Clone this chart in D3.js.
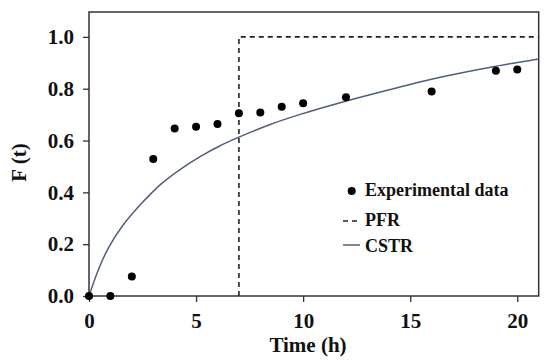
<!DOCTYPE html>
<html><head><meta charset="utf-8">
<script src="https://cdn.jsdelivr.net/npm/d3@7"></script>
<style>
html,body{margin:0;padding:0;background:#fff;}
text{font-family:"Liberation Serif","Times New Roman",serif;font-weight:bold;fill:#111;}
</style></head>
<body><svg id="c" width="550" height="364"></svg>
<script>
// Experimental data
const expTime = [0, 1, 2, 3, 4, 5, 6, 7, 8, 9, 10, 12, 16, 19, 20];
const expF    = [0, 0, 0.075, 0.529, 0.646, 0.653, 0.664, 0.705, 0.708, 0.73, 0.744, 0.767, 0.789, 0.869, 0.874];
// PFR (ideal step at t = 7 h)
const pfrTime = [7, 7, 21];
const pfrF    = [0, 1, 1];
// CSTR model curve
const cstrTime = [0, 0.47, 0.935, 1.56, 2.34, 3.32, 4.25, 5.19, 6.12, 7.03, 8.46, 9.79, 11.73, 14.07, 16.4, 18.75, 21];
const cstrF    = [0, 0.108, 0.19, 0.27, 0.347, 0.429, 0.488, 0.538, 0.58, 0.614, 0.662, 0.699, 0.746, 0.797, 0.844, 0.883, 0.915];
// Ticks
const xTicks = [0, 5, 10, 15, 20];
const yTicks = [0, 0.2, 0.4, 0.6, 0.8, 1.0];
const legendLabels = ["Experimental data", "PFR", "CSTR"];

const svg = d3.select("#c");
const L = 89, T = 12, R = 538.7, B = 296;
const x = d3.scaleLinear().domain([0, 21]).range([L, R]);
const y = d3.scaleLinear().domain([0, 1.096]).range([B, T]);

// frame
svg.append("rect").attr("x", L).attr("y", T).attr("width", R - L).attr("height", B - T)
  .attr("fill", "none").attr("stroke", "#333").attr("stroke-width", 1.5);

// axes
const xAxis = svg.append("g").attr("transform", `translate(0,${B})`)
  .call(d3.axisBottom(x).tickValues(xTicks).tickSize(6).tickPadding(11).tickFormat(d3.format("d")));
const yAxis = svg.append("g").attr("transform", `translate(${L},0)`)
  .call(d3.axisLeft(y).tickValues(yTicks).tickSize(6).tickPadding(9).tickFormat(d3.format(".1f")));
[xAxis, yAxis].forEach(g => {
  g.select(".domain").remove();
  g.selectAll(".tick line").attr("stroke", "#333").attr("stroke-width", 1.3);
  g.selectAll(".tick text").attr("font-size", 21).attr("fill", "#111")
    .style("font-family", '"Liberation Serif",serif').style("font-weight", "bold");
});

// PFR
svg.append("path").datum(pfrTime.map((t, i) => [t, pfrF[i]]))
  .attr("d", d3.line().x(d => x(d[0])).y(d => y(d[1])))
  .attr("fill", "none").attr("stroke", "#222").attr("stroke-width", 1.6).attr("stroke-dasharray", "5,4");

// CSTR
svg.append("path").datum(cstrTime.map((t, i) => [t, cstrF[i]]))
  .attr("d", d3.line().curve(d3.curveCatmullRom.alpha(0.5)).x(d => x(d[0])).y(d => y(d[1])))
  .attr("fill", "none").attr("stroke", "#4f5f7c").attr("stroke-width", 1.5);

// experimental points
svg.append("g").selectAll("circle").data(expTime.map((t, i) => [t, expF[i]])).join("circle")
  .attr("cx", d => x(d[0])).attr("cy", d => y(d[1])).attr("r", 4).attr("fill", "#000");

// axis titles
svg.append("text").attr("x", 308).attr("y", 352).attr("text-anchor", "middle").attr("font-size", 21).text("Time (h)");
svg.append("text").attr("transform", "translate(26,162.5) rotate(-90)").attr("text-anchor", "middle").attr("font-size", 21).text("F (t)");

// legend
const lg = svg.append("g");
lg.append("circle").attr("cx", 351.7).attr("cy", 191).attr("r", 4).attr("fill", "#000");
lg.append("line").attr("x1", 343).attr("x2", 360).attr("y1", 221).attr("y2", 221)
  .attr("stroke", "#222").attr("stroke-width", 1.6).attr("stroke-dasharray", "5,4");
lg.append("line").attr("x1", 343).attr("x2", 360).attr("y1", 245).attr("y2", 245)
  .attr("stroke", "#4f5f7c").attr("stroke-width", 1.5);
[196, 226, 252].forEach((yy, i) => {
  lg.append("text").attr("x", 365).attr("y", yy).attr("font-size", 18).text(legendLabels[i]);
});
</script></body></html>
